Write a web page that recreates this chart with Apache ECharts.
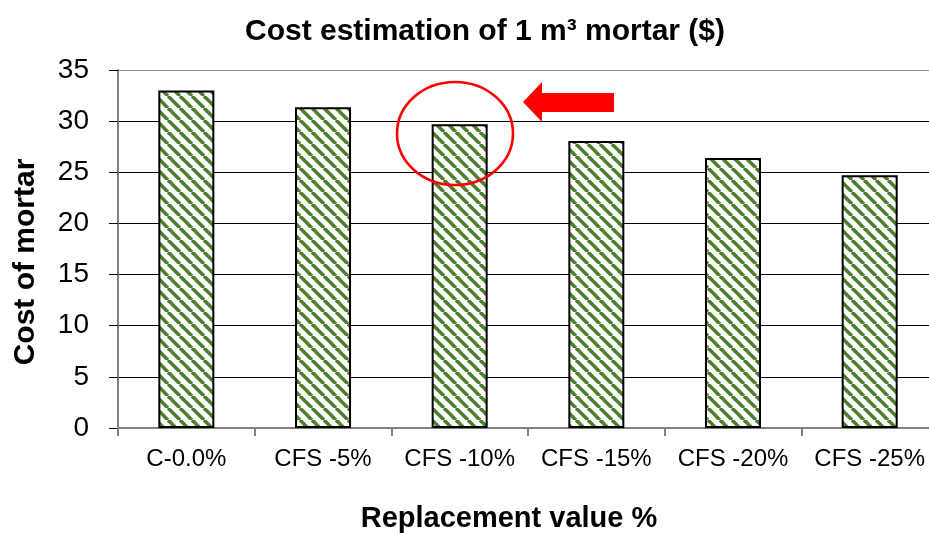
<!DOCTYPE html>
<html>
<head>
<meta charset="utf-8">
<script src="https://cdn.jsdelivr.net/npm/echarts@6/dist/echarts.min.js"></script>
<style>
  html, body { margin: 0; padding: 0; background: #fff; }
  #main { width: 929px; height: 533px; }
</style>
</head>
<body>
<div id="main"></div>
<script>
// 数据
const categories = ['C-0.0%', 'CFS -5%', 'CFS -10%', 'CFS -15%', 'CFS -20%', 'CFS -25%'];
const costValues = [33.0, 31.35, 29.7, 28.05, 26.4, 24.7];
const yTicks = [0, 5, 10, 15, 20, 25, 30, 35];

// 斜线填充
function makeHatch() {
  const c = document.createElement('canvas');
  c.width = 12; c.height = 12;
  const ctx = c.getContext('2d');
  ctx.fillStyle = '#ffffff';
  ctx.fillRect(0, 0, 12, 12);
  ctx.strokeStyle = '#4f7f2c';
  ctx.lineWidth = 3.6;
  [-12, 0, 12].forEach(function (k) {
    ctx.beginPath();
    ctx.moveTo(k, 0);
    ctx.lineTo(k + 12, 12);
    ctx.stroke();
  });
  return c;
}

const font = 'Liberation Sans, Arial, sans-serif';
const chart = echarts.init(document.getElementById('main'), null, { renderer: 'canvas' });

const option = {
  animation: false,
  backgroundColor: '#fff',
  title: {
    text: 'Cost estimation of 1 m³ mortar ($)',
    left: 480,
    textAlign: 'center',
    top: 12,
    textStyle: { fontFamily: font, fontWeight: 'bold', fontSize: 30, color: '#000' }
  },
  grid: { left: 118, right: -9, top: 70, bottom: 105, containLabel: false, outerBoundsMode: 'none' },
  xAxis: {
    type: 'category',
    data: categories,
    name: 'Replacement value %',
    nameLocation: 'middle',
    nameGap: 76,
    nameTextStyle: { fontFamily: font, fontWeight: 'bold', fontSize: 29, color: '#000', padding: [0, 38, 0, 0] },
    axisLine: { lineStyle: { color: '#808080', width: 2 } },
    axisTick: { show: true, interval: 0, length: 8, lineStyle: { color: '#808080', width: 2 } },
    axisLabel: { interval: 0, fontFamily: font, fontSize: 24, color: '#000', margin: 19 }
  },
  yAxis: {
    type: 'value',
    min: yTicks[0],
    max: yTicks[yTicks.length - 1],
    interval: 5,
    name: 'Cost of mortar',
    nameLocation: 'middle',
    nameGap: 77,
    nameRotate: 90,
    nameTextStyle: { fontFamily: font, fontWeight: 'bold', fontSize: 30, color: '#000', padding: [0, 26, 0, 0] },
    axisLine: { show: true, lineStyle: { color: '#808080', width: 2 } },
    axisTick: { show: true, length: 9, lineStyle: { color: '#000', width: 1 } },
    axisLabel: { fontFamily: font, fontSize: 28, color: '#000', margin: 29 },
    splitLine: {
      show: true,
      lineStyle: { color: ['#000', '#000', '#000', '#000', '#000', '#000', '#000', '#909090'], width: 1 }
    }
  },
  series: [{
    type: 'bar',
    data: costValues,
    barWidth: 56,
    itemStyle: {
      color: { image: makeHatch(), repeat: 'repeat' },
      borderColor: '#000',
      borderWidth: 2
    }
  }],
  graphic: [
    {
      type: 'ellipse',
      shape: { cx: 455, cy: 133.5, rx: 58, ry: 51.5 },
      style: { fill: 'none', stroke: '#ff0000', lineWidth: 2.6 },
      z: 100
    },
    {
      type: 'polygon',
      shape: {
        points: [[523, 102], [542, 82], [542, 93], [614, 93], [614, 112], [542, 112], [542, 122]]
      },
      style: { fill: '#ff0000' },
      z: 100
    }
  ]
};

chart.setOption(option);
</script>
</body>
</html>
